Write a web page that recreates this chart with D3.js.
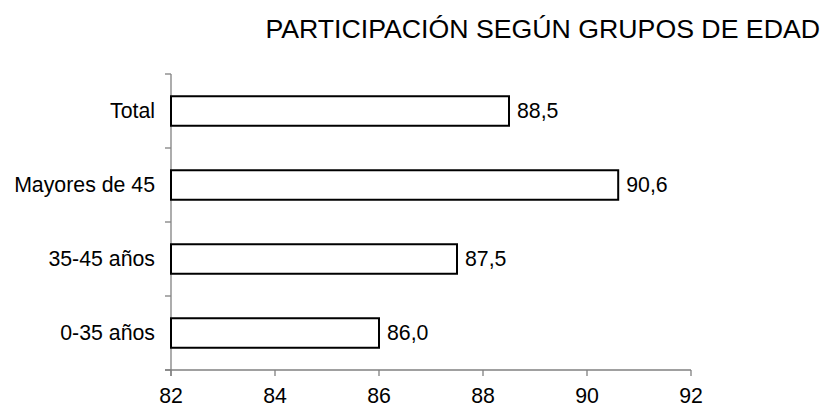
<!DOCTYPE html>
<html><head><meta charset="utf-8">
<script src="https://cdn.jsdelivr.net/npm/d3@7"></script>
<style>
html,body{margin:0;padding:0;background:#fff;}
svg{display:block;font-family:"Liberation Sans",Arial,sans-serif;}
</style></head>
<body>
<svg id="c" width="824" height="408"></svg>
<script>
const title = "PARTICIPACIÓN SEGÚN GRUPOS DE EDAD";
const categories = ["Total", "Mayores de 45", "35-45 años", "0-35 años"];
const values = [88.5, 90.6, 87.5, 86.0];
const xTicks = [82, 84, 86, 88, 90, 92];

(function () {
const svg = d3.select("#c");
const mLeft = 171, mRight = 691, mTop = 74, mBottom = 370;

const x = d3.scaleLinear().domain([82, 92]).range([mLeft, mRight]);
const yb = d3.scaleBand().domain(categories).range([mTop, mBottom]);

svg.append("text").attr("x", 820).attr("y", 37.5).attr("text-anchor", "end")
  .attr("font-size", 26.7).attr("fill", "#000").text(title);

const axisColor = "#808080";
svg.append("line").attr("x1", mLeft).attr("x2", mLeft).attr("y1", mTop).attr("y2", mBottom + 6)
  .attr("stroke", axisColor).attr("stroke-width", 1.3);
const yBounds = categories.map(c => yb(c)).concat([mBottom]);
svg.selectAll("line.yt").data(yBounds).join("line").attr("class", "yt")
  .attr("x1", mLeft - 6).attr("x2", mLeft).attr("y1", d => d).attr("y2", d => d)
  .attr("stroke", axisColor).attr("stroke-width", 1.3);
svg.append("line").attr("x1", mLeft - 6).attr("x2", mRight).attr("y1", mBottom).attr("y2", mBottom)
  .attr("stroke", axisColor).attr("stroke-width", 1.3);
svg.selectAll("line.xt").data(xTicks).join("line").attr("class", "xt")
  .attr("x1", d => x(d)).attr("x2", d => x(d)).attr("y1", mBottom).attr("y2", mBottom + 6)
  .attr("stroke", axisColor).attr("stroke-width", 1.3);
svg.selectAll("text.xl").data(xTicks).join("text").attr("class", "xl")
  .attr("x", d => x(d)).attr("y", 403.3).attr("text-anchor", "middle")
  .attr("font-size", 21.3).attr("fill", "#000").text(d => d);

svg.selectAll("text.cl").data(categories).join("text").attr("class", "cl")
  .attr("x", 155).attr("y", d => yb(d) + yb.bandwidth() / 2).attr("dy", "0.35em")
  .attr("text-anchor", "end").attr("font-size", 21.3).attr("fill", "#000").text(d => d);

const bh = 29.5;
svg.selectAll("rect.bar").data(values).join("rect").attr("class", "bar")
  .attr("x", x(82)).attr("y", (d, i) => yb(categories[i]) + yb.bandwidth() / 2 - bh / 2)
  .attr("width", d => x(d) - x(82)).attr("height", bh)
  .attr("fill", "#fff").attr("stroke", "#000").attr("stroke-width", 2);

const fmt = v => v.toFixed(1).replace(".", ",");
svg.selectAll("text.vl").data(values).join("text").attr("class", "vl")
  .attr("x", d => x(d) + 8).attr("y", (d, i) => yb(categories[i]) + yb.bandwidth() / 2).attr("dy", "0.35em")
  .attr("font-size", 21.3).attr("fill", "#000").text(fmt);
})();
</script>
</body></html>
